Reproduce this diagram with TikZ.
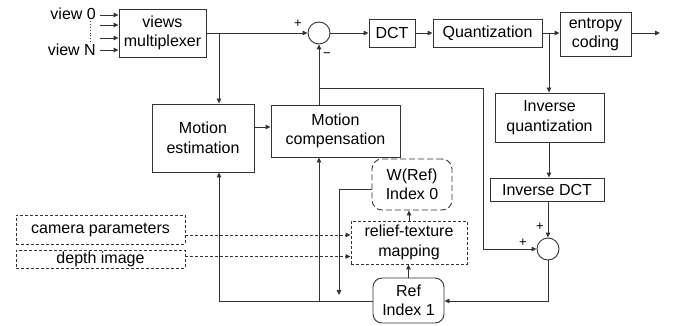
\documentclass[tikz,border=0pt]{standalone}
\usepackage{fontspec}
\setmainfont{Liberation Sans}
\usetikzlibrary{arrows.meta,calc}
\begin{document}
\begin{tikzpicture}[x=1pt,y=-1pt,
  every node/.style={font=\fontsize{16}{19.5}\selectfont, align=center, inner sep=0pt, text=black},
  box/.style={draw=black!80, line width=0.9pt, rectangle},
  rbox/.style={box, rounded corners=9pt},
  dbox/.style={box, dash pattern=on 3pt off 2pt},
  wbox/.style={box, rounded corners=10pt, dash pattern=on 6pt off 3pt},
  sumc/.style={draw=black!80, line width=0.9pt, circle, minimum size=22pt},
  ln/.style={draw=black!80, line width=0.9pt},
  arr/.style={ln, -{Triangle[length=5pt,width=4.5pt]}},
  darr/.style={arr, dash pattern=on 3pt off 2pt},
  sgn/.style={font=\fontsize{13}{13}\selectfont}
]
\useasboundingbox (0,0) rectangle (687,326);
% nodes
\node[box, minimum width=87pt, minimum height=48pt] (mux) at (162.5,33) {views\\multiplexer};
\node[sumc] (s1) at (319,33) {};
\node[box, minimum width=46pt, minimum height=28pt] (dct) at (392,33) {DCT};
\node[box, minimum width=109pt, minimum height=28pt] (q) at (487.5,33) {Quantization};
\node[box, minimum width=71pt, minimum height=44pt] (ent) at (595.5,34.5) {entropy\\coding};
\node[box, minimum width=102pt, minimum height=68pt] (me) at (203,138) {Motion\\estimation};
\node[box, minimum width=129pt, minimum height=52pt] (mc) at (335.5,131) {Motion\\compensation};
\node[box, minimum width=109pt, minimum height=49pt] (iq) at (549.5,117.5) {Inverse\\quantization};
\node[box, minimum width=114pt, minimum height=23pt] (idct) at (547,189.5) {Inverse DCT};
\node[sumc] (s2) at (548,249) {};
\node[wbox, minimum width=80pt, minimum height=51pt] (wref) at (412,184.5) {W(Ref)\\Index 0};
\node[dbox, minimum width=116pt, minimum height=43pt] (rel) at (409,242.5) {relief-texture\\mapping};
\node[rbox, minimum width=71pt, minimum height=45pt] (ref) at (408.5,300.5) {Ref\\Index 1};
\node[dbox, minimum width=169pt, minimum height=29pt] (cam) at (100.5,229.5) {camera parameters};
\node[dbox, minimum width=169pt, minimum height=18pt] (dep) at (100.5,259) {depth image};
% view inputs
\node[anchor=east] (v0) at (96,14) {view 0};
\node[anchor=east] (vn) at (96,50) {view N};
\coordinate (i1) at (100,15); \coordinate (i2) at (100,25);
\coordinate (i3) at (100,38); \coordinate (i4) at (100,50);
\draw[arr] (i1) -- (i1 -| mux.west);
\draw[arr] (i2) -- (i2 -| mux.west);
\draw[arr] (i3) -- (i3 -| mux.west);
\draw[arr] (i4) -- (i4 -| mux.west);
\coordinate (dt) at (90,21); \coordinate (db) at (90,42);
\draw[ln, dotted, line width=0.9pt] (dt) -- (db);
% top path
\coordinate (b1) at (219,33);
\draw[arr] (mux.east) -- (s1.west);
\draw[arr] (b1) -- (b1 |- me.north);
\draw[arr] (s1.east) -- (dct.west);
\draw[arr] (dct.east) -- (q.west);
\draw[arr] (q.east) -- (q.east -| ent.west);
\coordinate (b2) at (549,33);
\draw[arr] (b2) -- (b2 |- iq.north);
\coordinate (out) at (660,33);
\draw[arr] (out -| ent.east) -- (out);
\node[sgn] (p1) at (298,24) {+};
\node[sgn] (m1) at (327,55) {−};
% reconstruction
\coordinate (b3) at (549,142);
\draw[arr] (b3) -- (b3 |- idct.north);
\draw[arr] (s2 |- idct.south) -- (s2.north);
\node[sgn] (p2) at (540,227) {+};
\node[sgn] (p3) at (523,243) {+};
% MC to sum
\coordinate (b4) at (319,88);
\coordinate (c4) at (483,88);
\coordinate (d4) at (483,249);
\draw[arr] (s1 |- mc.north) -- (s1.south);
\draw[arr] (b4) -- (c4) -- (d4) -- (s2.west);
% ME to MC
\coordinate (e1) at (254,127);
\draw[arr] (e1) -- (e1 -| mc.west);
% bottom loop
\coordinate (f1) at (548,301);
\draw[arr] (s2.south) -- (f1) -- (f1 -| ref.east);
\coordinate (f2) at (219,301);
\draw[arr] (f2 -| ref.west) -- (f2) -- (f2 |- me.south);
\coordinate (f3) at (319,301);
\draw[arr] (f3) -- (f3 |- mc.south);
\coordinate (g1) at (339,189);
\coordinate (g2) at (339,295);
\draw[arr] (g1 -| wref.west) -- (g1) -- (g2);
\draw[arr] (ref.north) -- (ref.north |- rel.south);
\draw[arr] (rel.north) -- (rel.north |- wref.south);
% dashed inputs
\coordinate (h1) at (185,235);
\coordinate (h2) at (185,256.5);
\draw[darr] (h1) -- (h1 -| rel.west);
\draw[darr] (h2) -- (h2 -| rel.west);
\end{tikzpicture}
\end{document}
